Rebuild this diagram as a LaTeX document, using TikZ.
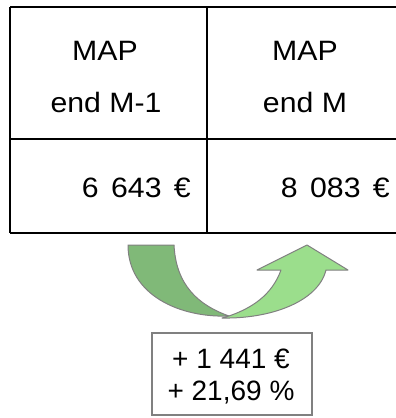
\documentclass[tikz,border=0pt]{standalone}
\usepackage{fontspec}
\usepackage{graphicx}
\setmainfont{Liberation Sans}
\definecolor{darkgr}{RGB}{128,185,120}
\definecolor{lightgr}{RGB}{155,222,140}
\definecolor{edgegray}{RGB}{128,128,128}
\newcommand{\wide}[1]{\scalebox{1.08}[1]{#1}}
\newcommand{\gap}{\hspace{0.41em}}
\begin{document}
\begin{tikzpicture}[x=1bp,y=-1bp,
  txt/.style={inner sep=0pt, font=\fontsize{28bp}{32bp}\selectfont},
  rule/.style={draw=black, line width=1.2bp},
  band/.style={draw=edgegray, line width=1bp, line join=round}]
\useasboundingbox (0,0) rectangle (396,418);
% table grid
\coordinate (tl) at (10,7);
\coordinate (tr) at (396,7);
\coordinate (ml) at (10,139);
\coordinate (mr) at (396,139);
\coordinate (bl) at (10,233);
\coordinate (br) at (396,233);
\coordinate (ct) at (207,7);
\coordinate (cb) at (207,233);
\draw[rule] (tl) -- (tr);
\draw[rule] (ml) -- (mr);
\draw[rule] (bl) -- (br);
\draw[rule] (tl) -- (bl);
\draw[rule] (ct) -- (cb);
% headers
\node[txt, anchor=base] (h1a) at (105,60) {\wide{MAP}};
\node[txt, anchor=base] (h1b) at (106,112) {\wide{end M-1}};
\node[txt, anchor=base] (h2a) at (305,60) {\wide{MAP}};
\node[txt, anchor=base] (h2b) at (305,112) {\wide{end M}};
% values
\node[txt, anchor=base east] (v1) at (191,197) {\wide{6\gap 643\gap €}};
\node[txt, anchor=base east] (v2) at (390,197) {\wide{8\gap 083\gap €}};
% curved arrow
\filldraw[band, fill=darkgr] (128,245) -- (174,245)
  .. controls (176,285) and (198,305) .. (229,316)
  .. controls (180,318) and (128,295) .. cycle;
\filldraw[band, fill=lightgr] (222,318)
  .. controls (270,319) and (318,302) .. (326,270)
  -- (348,270) -- (307,245) -- (257,270) -- (281,270)
  .. controls (272,295) and (252,308) .. (229,316) -- cycle;
% result box
\node[draw=edgegray, line width=1.5bp, minimum width=160bp, minimum height=82bp, inner sep=0pt] (res) at (232,374) {};
\node[txt, anchor=base] (r1) at (231,368) {+ 1 441 €};
\node[txt, anchor=base] (r2) at (231,400.5) {+ 21,69 \%};
\end{tikzpicture}
\end{document}
